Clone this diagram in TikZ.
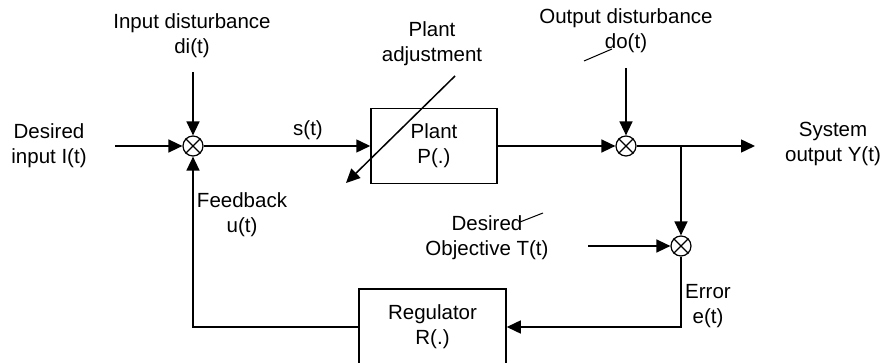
\documentclass[tikz,border=0pt]{standalone}
\usepackage{fontspec}
\setmainfont{Liberation Sans}
\usetikzlibrary{arrows.meta,positioning}
\tikzset{
  ar/.style={-{Triangle[length=14pt,width=13pt]},line width=1.5pt},
  box/.style={draw,line width=1.5pt,align=center,inner sep=0pt,font=\fontsize{20.5}{25}\selectfont},
  sj/.style={circle,draw,line width=1.2pt,minimum size=20pt,inner sep=0pt},
  lbl/.style={align=center,font=\fontsize{20.5}{25}\selectfont}
}
\begin{document}
\begin{tikzpicture}[x=1pt,y=-1pt]
\useasboundingbox (0,0) rectangle (884,363);
% summing junctions and blocks
\node[sj] (s1) at (193,146) {};
\node[sj] (s2) at (626,146) {};
\node[sj] (s3) at (681,246) {};
\foreach \s in {s1,s2,s3}{\draw[line width=1.2pt] (\s.45)--(\s.225) (\s.135)--(\s.315);}
\node[box,minimum width=126pt,minimum height=75pt] (plant) at (434,146) {Plant\\P(.)};
\node[box,minimum width=147pt,minimum height=76pt] (reg) at (432.5,327) {Regulator\\R(.)};
% labels
\node[lbl] (tin) at (49,146) {Desired\\input I(t)};
\node[lbl] (tdi) at (192,36) {Input disturbance\\di(t)};
\node[lbl] (ts) at (308,130) {s(t)};
\node[lbl] (tadj) at (432,44) {Plant\\adjustment};
\node[lbl] (tdo) at (626,31) {Output disturbance\\do(t)};
\node[lbl] (ty) at (833,144) {System\\output Y(t)};
\node[lbl] (tobj) at (487,238) {Desired\\Objective T(t)};
\node[lbl] (terr) at (708,306) {Error\\e(t)};
\node[lbl] (tfb) at (242,215) {Feedback\\u(t)};
% free ends
\coordinate (in) at (115,146);
\coordinate (di) at (193,72);
\coordinate (do) at (626,68);
\coordinate (br) at (681,146);
\coordinate (out) at (755,146);
\coordinate (obj) at (588,246);
\coordinate (adjA) at (455,76);
\coordinate (adjB) at (346,183);
\coordinate (ec) at (681,327);
\coordinate (fc) at (193,327);
% signal flow
\draw[ar] (in) -- (s1);
\draw[ar] (di) -- (s1);
\draw[ar] (s1) -- (plant);
\draw[ar] (plant) -- (s2);
\draw[ar] (do) -- (s2);
\draw[ar] (s2) -- (out);
\draw[ar] (br) -- (s3);
\draw[ar] (obj) -- (s3);
\draw[ar] (s3) -- (ec) -- (reg);
\draw[ar] (reg) -- (fc) -- (s1);
\draw[ar] (adjA) -- (adjB);
% stray strokes
\draw[line width=1pt] (584,61) -- (612,49);
\draw[line width=1pt] (520,222) -- (543,213);
\end{tikzpicture}
\end{document}
